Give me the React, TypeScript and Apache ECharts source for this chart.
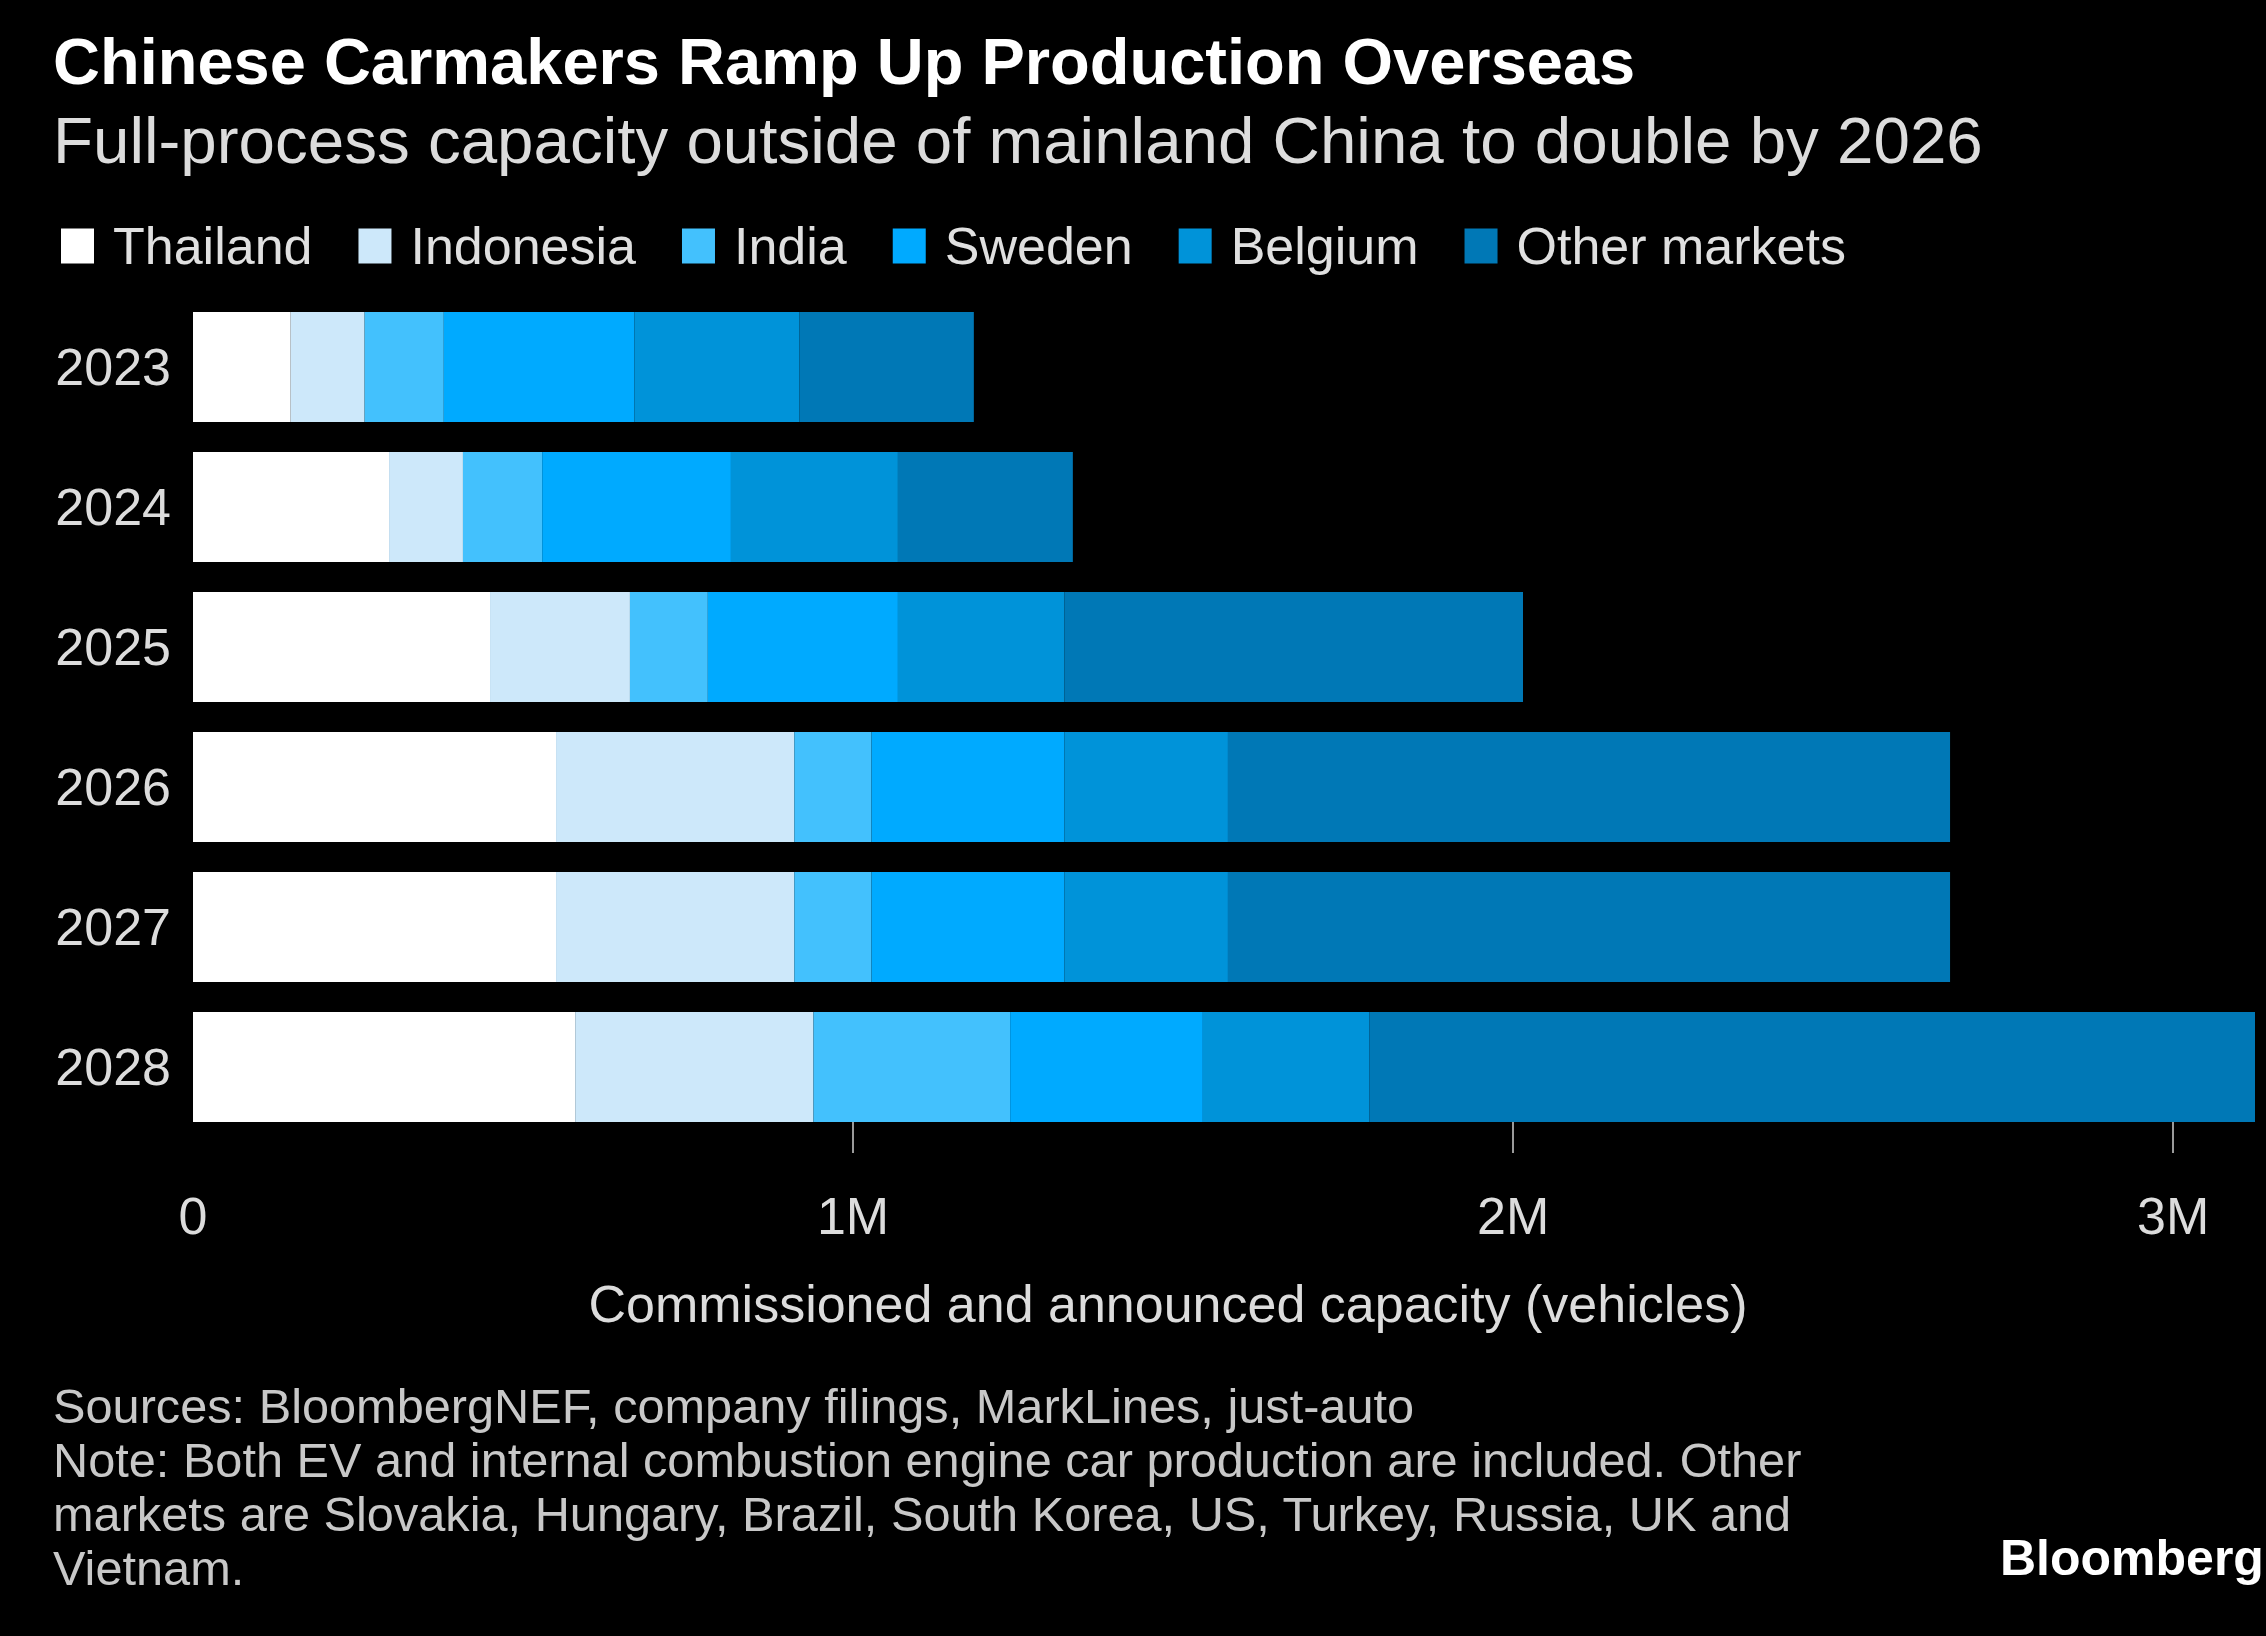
import React, { useEffect, useRef } from 'react';
import * as echarts from 'echarts';

const years = ['2023', '2024', '2025', '2026', '2027', '2028'];
const seriesNames = ['Thailand', 'Indonesia', 'India', 'Sweden', 'Belgium', 'Other markets'];
const thailand = [148000, 297000, 450000, 550000, 550000, 579000];
const indonesia = [112000, 112000, 212000, 361000, 361000, 361000];
const india = [120000, 120000, 118000, 117000, 117000, 298000];
const sweden = [289000, 286000, 288000, 292000, 292000, 292000];
const belgium = [250000, 253000, 252000, 248000, 248000, 252000];
const otherMarkets = [264000, 265000, 695000, 1094000, 1094000, 1342000];
const labelValues = [0, 1000000, 2000000, 3000000];
const tickValues = [1000000, 2000000, 3000000];
const tickLabels = ['0', '1M', '2M', '3M'];
const colors = ['#ffffff', '#cde8fa', '#43c1fd', '#00aaff', '#0093d9', '#0078b6'];

const titleText = 'Chinese Carmakers Ramp Up Production Overseas';
const subtitleText = 'Full-process capacity outside of mainland China to double by 2026';
const axisTitle = 'Commissioned and announced capacity (vehicles)';
const footnoteLines = [
  'Sources: BloombergNEF, company filings, MarkLines, just-auto',
  'Note: Both EV and internal combustion engine car production are included. Other',
  'markets are Slovakia, Hungary, Brazil, South Korea, US, Turkey, Russia, UK and',
  'Vietnam.',
];

const FONT = '"Liberation Sans", Arial, Helvetica, sans-serif';

export default function App() {
  const ref = useRef<HTMLDivElement>(null);

  useEffect(() => {
    if (!ref.current) return;
    const chart = echarts.init(ref.current, null, { renderer: 'svg' });
    const allSeries = [thailand, indonesia, india, sweden, belgium, otherMarkets];
    chart.setOption({
      animation: false,
      backgroundColor: '#000000',
      textStyle: { fontFamily: FONT },
      color: colors,
      title: [
        {
          text: titleText,
          left: 53,
          top: 29,
          padding: 0,
          textStyle: { color: '#ffffff', fontSize: 65, fontWeight: 'bold', fontFamily: FONT },
        },
        {
          text: subtitleText,
          left: 53,
          top: 107,
          padding: 0,
          textStyle: { color: '#dcdcdc', fontSize: 65.5, fontWeight: 'normal', fontFamily: FONT },
        },
        {
          text: footnoteLines.join('\n'),
          left: 53,
          top: 1379,
          padding: 0,
          textStyle: { color: '#c8c8c8', fontSize: 48.7, fontWeight: 'normal', lineHeight: 54, fontFamily: FONT },
        },
        {
          text: 'Bloomberg',
          left: 2000,
          top: 1533,
          padding: 0,
          textStyle: { color: '#ffffff', fontSize: 50, fontWeight: 'bold', fontFamily: FONT },
        },
      ],
      legend: {
        data: seriesNames,
        left: 61,
        top: 220,
        padding: 0,
        icon: 'rect',
        itemWidth: 33,
        itemHeight: 35,
        itemGap: 46,
        selectedMode: false,
        textStyle: { color: '#e0e0e0', fontSize: 52, fontFamily: FONT, padding: [0, 0, 0, 14] },
      },
      grid: { left: 193, right: 11, top: 297, bottom: 499, containLabel: false },
      xAxis: {
        type: 'value',
        min: 0,
        max: 3124000,
        offset: -15,
        splitLine: { show: false },
        axisLine: { show: false },
        axisTick: {
          show: true,
          customValues: tickValues,
          length: 31,
          lineStyle: { color: '#9a9a9a', width: 2 },
        },
        axisLabel: {
          customValues: labelValues,
          formatter: (v: number) => tickLabels[labelValues.indexOf(v)] ?? '',
          color: '#dcdcdc',
          fontSize: 52,
          margin: 68,
          fontFamily: FONT,
        },
        name: axisTitle,
        nameLocation: 'middle',
        nameGap: 156,
        nameTextStyle: { color: '#dcdcdc', fontSize: 52, fontFamily: FONT, padding: [0, 112, 0, 0] },
      },
      yAxis: {
        type: 'category',
        data: years,
        inverse: true,
        axisLine: { show: false },
        axisTick: { show: false },
        splitLine: { show: false },
        axisLabel: { color: '#dcdcdc', fontSize: 52, margin: 22, fontFamily: FONT },
      },
      series: seriesNames.map((name, i) => ({
        name,
        type: 'bar',
        stack: 'total',
        barWidth: 110,
        data: allSeries[i],
        itemStyle: { color: colors[i] },
        emphasis: { disabled: true },
      })),
    });
    return () => chart.dispose();
  }, []);

  return (
    <div
      ref={ref}
      style={{ position: 'fixed', left: 0, top: 0, width: 2266, height: 1636, background: '#000' }}
    />
  );
}
